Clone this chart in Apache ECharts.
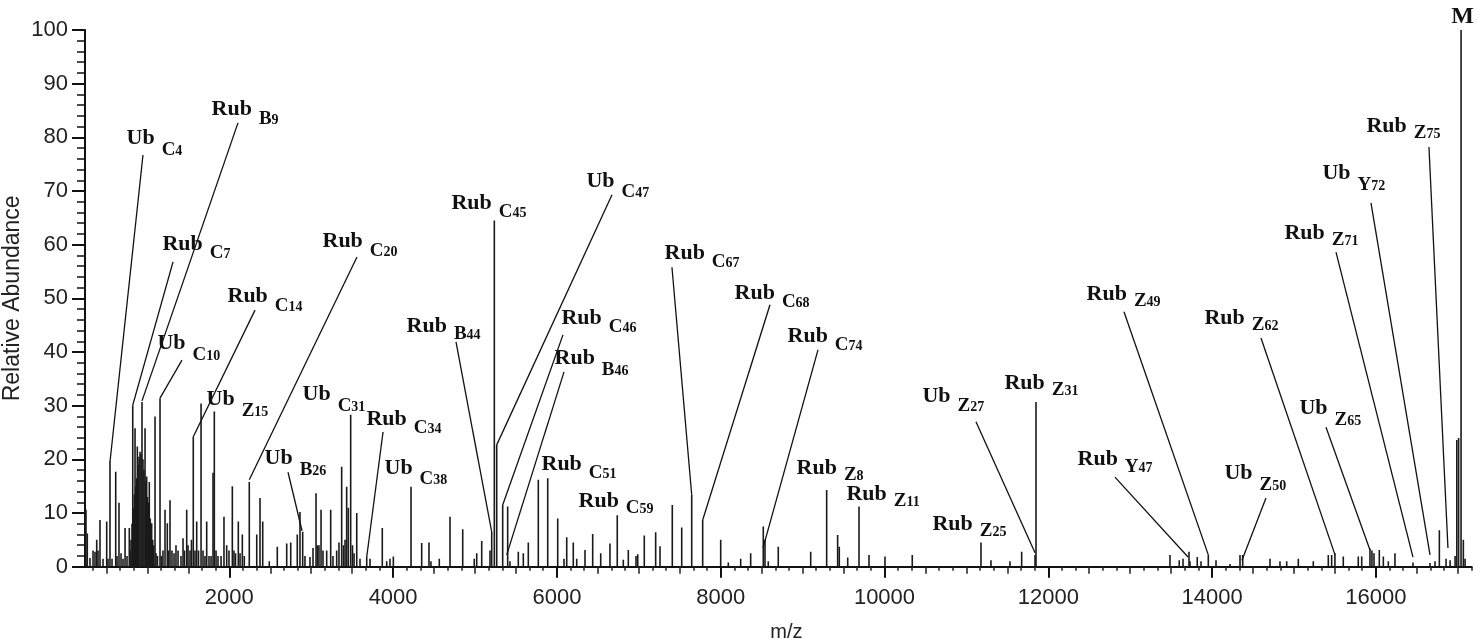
<!DOCTYPE html>
<html><head><meta charset="utf-8">
<script src="https://cdn.jsdelivr.net/npm/echarts@6/dist/echarts.min.js"></script>
<style>html,body{margin:0;padding:0;background:#fff}#c{width:1477px;height:644px}</style>
</head><body><div id="c"></div>
<script>
// ---- data ----
const peakMz = [250,266,299,336,360,381,397,421,458,503,519,543,568,613,629,653,678,702,727,751,779,
788,800,812,821,830,840,849,857,867,877,888,897,910,922,934,946,958,971,980,991,1001,1011,1023,1035,1052,1065,1077,1093,1105,1123,
1154,1172,1190,1215,1243,1258,1276,1300,1325,1349,1374,1410,1435,1453,1480,1496,1520,1538,1560,1581,1602,1624,1655,1679,1703,1724,
1752,1777,1801,1817,1838,1862,1899,1935,1968,1996,2037,2057,2076,2110,2131,2159,2183,2244,2335,2375,2408,2488,2586,2701,2750,2830,
2863,2896,2924,2985,3022,3059,3077,3095,3120,3144,3189,3238,3266,3311,3339,3372,3394,3413,3433,3453,3482,3504,3523,3556,3596,3678,
3718,3868,3922,3962,4003,4219,4349,4438,4462,4564,4695,4850,4991,5021,5082,5183,5204,5236,5265,5338,5399,5427,5529,5590,5651,5773,
5888,6010,6087,6120,6200,6242,6343,6437,6535,6648,6737,6811,6872,6966,6987,7067,7206,7259,7409,7524,7646,7780,8000,8093,8244,8366,
8520,8541,8581,8703,9099,9294,9428,9448,9551,9689,9811,10006,10339,11178,11300,11532,11675,11838,11850,13486,13599,13645,13718,
13730,13819,13865,13954,14048,14219,14341,14374,14707,14829,14911,15053,15236,15419,15460,15500,15602,15785,15827,15928,15952,
15977,16042,16091,16152,16233,16453,16661,16722,16775,16857,16906,16967,16988,17010,17040,17068,17089];
const peakAbundance = [10.6,6.2,1.6,3,2.8,5,3,8.7,1.5,8.4,1.5,19.6,1.5,17.7,2,11.9,2.5,1.5,7.2,2,7.2,
3,5,8,30.1,11,13.5,25.8,15,16.5,22.4,19,20.5,21.4,21,30.7,20,18,25.8,16,16.8,13,12,15.8,9,8.1,5,4,28,2.5,2,
31.4,2,3,10.6,8.1,3,12.4,3,2.5,4,3,2,5.3,3,10.6,4,3,5,24.2,3,8.4,3,30.4,3,2,8.4,
2,2,17.5,28.9,3,2,2,9.3,4,3,15,3,2.5,8.4,2.5,6,2,15.8,6,12.8,8.4,1,3.7,4.3,4.5,6,
10.2,6.5,2,1.8,3.5,13.7,4,4,10.6,3,3,10.6,2,3,4.5,18.6,4,5,14.9,11,28.3,4,2.5,10,1.5,1.8,
1.5,7.2,1,1.5,1.9,14.9,4.4,4.5,1,1.5,9.3,7,1.5,2.5,4.8,3,6.5,64.5,22.7,11.5,11.2,1,2.8,2.5,4.5,16.2,
16.5,9,1.5,5.5,4.5,1.5,3.1,6.1,2.5,4.3,9.6,1.3,3.1,2,2.3,5.8,6.4,3.8,11.5,7.3,13.4,8.7,5,0.8,1.5,2.5,
7.5,5,1,3.7,2.8,14.3,5.9,3.7,1.7,11.2,2.2,1.9,2.2,4.5,1.2,1,2.8,2.2,30.7,2.2,1.2,1.5,2.8,
1,1.8,1,2.2,1.2,0.5,2.2,2.2,1.5,1,1,1.5,1,2.2,2.2,2.5,1.9,1.9,1.9,3.4,3,
2.5,3.1,1.9,1,2.5,0.8,0.7,1,6.8,1.5,1.2,2,23.6,24,100,5,1.5];

const yTickLabels = [0,10,20,30,40,50,60,70,80,90,100];
const xTickLabels = [2000,4000,6000,8000,10000,12000,14000,16000];

// annotations: name parts and label anchor (top-left, data units)
const annPrefix = ['Ub','Rub','Rub','Ub','Rub','Ub','Rub','Ub','Ub','Rub','Ub','Rub','Rub','Ub','Rub','Rub','Rub','Rub','Rub','Rub','Rub','Rub','Rub','Rub','Ub','Rub','Rub','Rub','Ub','Rub','Ub','Rub','Ub','Rub','M'];
const annIon    = ['C','B','C','C','C','Z','C','B','C','C','C','B','C','C','C','B','C','C','C','C','C','Z','Z','Z','Z','Z','Y','Z','Z','Z','Z','Z','Y','Z',''];
const annSub    = ['4','9','7','10','14','15','20','26','31','34','38','44','45','47','46','46','51','59','67','68','74','8','11','25','27','31','47','49','50','62','65','71','72','75',''];
const annMz     = [751,1789,1190,1129,1984,1728,3144,2436,2900,3681,3901,4170,4719,6367,6062,5977,5818,6270,7320,8175,8822,8932,9542,10592,10470,11471,12363,12473,14157,13913,15073,14890,15354,15891,16925];
const annAb     = [81.7,87.1,62.0,43.5,52.3,33.1,62.5,22.1,34.0,29.4,20.3,46.7,69.6,73.7,48.2,40.7,21.0,14.1,60.3,52.9,44.8,20.3,15.4,9.8,33.7,36.1,21.9,52.7,19.3,48.2,31.4,64.0,75.2,84.0,104.6];
const annDrop   = [10,8,7,10,8,10,8,10,10,7,9,6,7,9,7,10,7,5,7,7,7,5,5,5,8,5,6,5,10,5,10,5,10,5,0];

// leader lines: from (label side) to (peak), data units
const leadFromMz = [946,2106,1313,1422,2314,3559,2717,3877,4768,6673,6074,6087,7405,8602,9188,11117,12814,12924,14658,14597,15391,15513,15940,16648];
const leadFromAb = [76.7,82.7,56.8,38.5,47.8,57.7,17.6,25.1,41.9,69.3,43.2,36.3,55.8,48.8,40.4,27.0,16.7,47.5,12.8,42.6,26.0,58.6,67.8,78.2];
const leadToMz   = [543,934,821,1154,1560,2244,2888,3678,5204,5265,5338,5387,7646,7780,8517,11838,13706,13954,14365,15501,15928,16453,16661,16880];
const leadToAb   = [19.5,30.9,30.1,31.4,24.2,16.2,6.7,1.8,6.5,22.7,11.5,2.2,13.4,8.7,3.5,2.6,1.8,2.2,1.2,2.2,3.1,1.8,2.2,3.5];

// ---- chart ----
const SERIF = '"Liberation Serif","Times New Roman",serif';
const SANS = '"Liberation Sans",Arial,sans-serif';
const X_MIN = 238, X_MAX = 17170;

function ticksEvery(step, skip) {
  const out = [];
  for (let k = Math.ceil(X_MIN / step); k * step <= X_MAX; k++) {
    const v = Math.round(k * step * 100) / 100;
    if (!skip(v)) out.push(v);
  }
  return out;
}
const ticks500 = ticksEvery(500, v => v % 2000 === 0);
const ticksThird = ticksEvery(500 / 3, v => Math.abs(v / 500 - Math.round(v / 500)) < 1e-6);

function richFor(drop, big) {
  const P = drop + 3.4;
  const base = {fontFamily: SERIF, fontWeight: 'bold', color: '#111', verticalAlign: 'top'};
  return {
    p: Object.assign({}, base, {fontSize: big ? 24 : 22}),
    i: Object.assign({}, base, {fontSize: 19, padding: [P - 0.5, 0, 0, 7]}),
    s: Object.assign({}, base, {fontSize: 14, padding: [P + 3.6, 0, 0, 0]})
  };
}

const labelData = annMz.map((m, k) => ({
  value: [m, annAb[k]],
  label: {
    show: true,
    formatter: annIon[k] ? '{p|' + annPrefix[k] + '}{i|' + annIon[k] + '}{s|' + annSub[k] + '}' : '{p|' + annPrefix[k] + '}',
    rich: richFor(annDrop[k], !annIon[k])
  }
}));

const hiddenAxis = (len, vals) => ({
  type: 'value', min: X_MIN, max: X_MAX, position: 'bottom', gridIndex: 0,
  axisLine: {show: false, onZero: false}, axisLabel: {show: false}, splitLine: {show: false},
  axisTick: {show: true, length: len, customValues: vals, lineStyle: {color: '#222', width: 1.5}}
});

const chart = echarts.init(document.getElementById('c'), null, {renderer: 'canvas'});
chart.setOption({
  animation: false,
  backgroundColor: '#fff',
  grid: {left: 85, right: 5.3, top: 30, bottom: 77.3, containLabel: false, outerBoundsMode: 'none'},
  xAxis: [{
    type: 'value', min: X_MIN, max: X_MAX, position: 'bottom',
    name: 'm/z', nameLocation: 'middle', nameGap: 56, nameMoveOverlap: false,
    nameTextStyle: {fontFamily: SANS, fontSize: 20, color: '#222', padding: [0, 0, 0, 16]},
    axisLine: {show: true, onZero: false, lineStyle: {color: '#111', width: 2}},
    axisTick: {show: true, length: 11, customValues: xTickLabels, lineStyle: {color: '#111', width: 2}},
    axisLabel: {customValues: xTickLabels, margin: 20, fontFamily: SANS, fontSize: 22, color: '#222',
      formatter: v => String(v)},
    splitLine: {show: false}
  }, hiddenAxis(7, ticks500), hiddenAxis(4, ticksThird)],
  yAxis: {
    type: 'value', min: 0, max: 100, interval: 10,
    name: 'Relative Abundance', nameLocation: 'middle', nameGap: 61, nameRotate: 90, nameMoveOverlap: false,
    nameTextStyle: {fontFamily: SANS, fontSize: 23, color: '#222'},
    axisLine: {show: true, lineStyle: {color: '#111', width: 2}},
    axisTick: {show: true, length: 13, lineStyle: {color: '#111', width: 2}},
    minorTick: {show: true, splitNumber: 5, length: 8, lineStyle: {color: '#111', width: 1.5}},
    axisLabel: {margin: 17, fontFamily: SANS, fontSize: 22, color: '#222', formatter: v => String(v)},
    splitLine: {show: false}
  },
  series: [{
    type: 'custom', xAxisIndex: 0, yAxisIndex: 0, silent: true, clip: true,
    data: peakMz.map((m, k) => [m, peakAbundance[k]]),
    renderItem: function (params, api) {
      const a = api.coord([api.value(0), 0]);
      const b = api.coord([api.value(0), api.value(1)]);
      return {type: 'line', shape: {x1: a[0], y1: a[1], x2: b[0], y2: b[1]},
        style: {stroke: '#1a1a1a', lineWidth: 1.6}};
    }
  }, {
    type: 'custom', xAxisIndex: 0, yAxisIndex: 0, silent: true, clip: false,
    data: leadFromMz.map((m, k) => [m, leadFromAb[k], leadToMz[k], leadToAb[k]]),
    renderItem: function (params, api) {
      const a = api.coord([api.value(0), api.value(1)]);
      const b = api.coord([api.value(2), api.value(3)]);
      return {type: 'line', shape: {x1: a[0], y1: a[1], x2: b[0], y2: b[1]},
        style: {stroke: '#111', lineWidth: 1.3}};
    }
  }, {
    type: 'scatter', xAxisIndex: 0, yAxisIndex: 0, silent: true, clip: false,
    symbol: 'circle', symbolSize: 1, itemStyle: {color: 'rgba(0,0,0,0)'},
    label: {show: true, position: [0, 0], align: 'left', verticalAlign: 'top', opacity: 1},
    labelLayout: {hideOverlap: false},
    data: labelData
  }]
});
</script>
</body></html>
